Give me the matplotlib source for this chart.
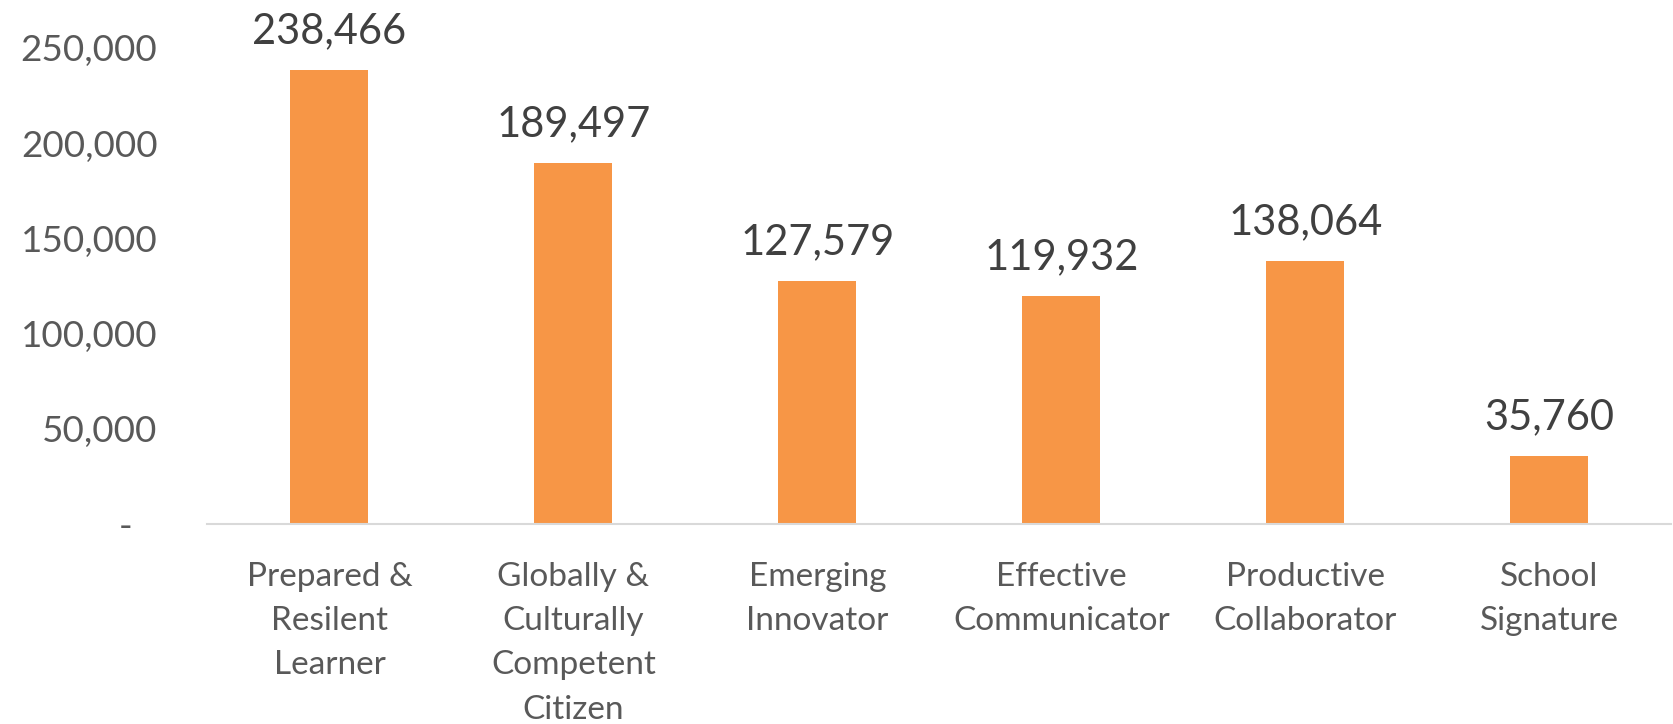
import matplotlib
matplotlib.use("Agg")
import matplotlib.pyplot as plt
import matplotlib.transforms as mtransforms
from matplotlib.ticker import FuncFormatter

# valores do grafico
categories = ["Prepared &\nResilent\nLearner",
              "Globally &\nCulturally\nCompetent\nCitizen",
              "Emerging\nInnovator",
              "Effective\nCommunicator",
              "Productive\nCollaborator",
              "School\nSignature"]
values = [238466, 189497, 127579, 119932, 138064, 35760]
yticks = [0, 50000, 100000, 150000, 200000, 250000]

plt.rcParams['font.family'] = ['Lato', 'DejaVu Sans']

fig = plt.figure(figsize=(16.73, 7.24), dpi=100)
ax = fig.add_axes([0.124, 0.276, 0.875, 0.658])

x = range(len(values))
bars = ax.bar(x, values, width=0.32, color="#F79646", zorder=2)

ax.set_xlim(-0.5, len(values) - 0.5)
ax.set_ylim(0, 250000)
ax.set_yticks(yticks)
ax.yaxis.set_major_formatter(FuncFormatter(lambda v, p: "-" if v == 0 else f"{int(v):,}"))
ax.set_xticks(list(x))
ax.set_xticklabels(categories, linespacing=1.6)

ax.tick_params(axis='y', length=0, pad=36, labelsize=26.5, labelcolor="#595959")
ax.tick_params(axis='x', length=0, pad=27, labelsize=24, labelcolor="#595959")

# o "-" do zero fica mais para a esquerda (formato contabil)
fig.canvas.draw()
for lbl in ax.get_yticklabels():
    if lbl.get_text() == "-":
        lbl.set_transform(lbl.get_transform() + mtransforms.ScaledTranslation(-0.25, 0, fig.dpi_scale_trans))

for s in ['top', 'right', 'left']:
    ax.spines[s].set_visible(False)
ax.spines['bottom'].set_color("#D9D9D9")
ax.spines['bottom'].set_linewidth(1.5)

# rotulos de dados
for b, v in zip(bars, values):
    ax.annotate(f"{v:,}", (b.get_x() + b.get_width() / 2, v),
                xytext=(0, 14), textcoords="offset points",
                ha="center", va="bottom", fontsize=30, color="#404040")

fig.savefig("out.png", dpi=100, facecolor="white")
